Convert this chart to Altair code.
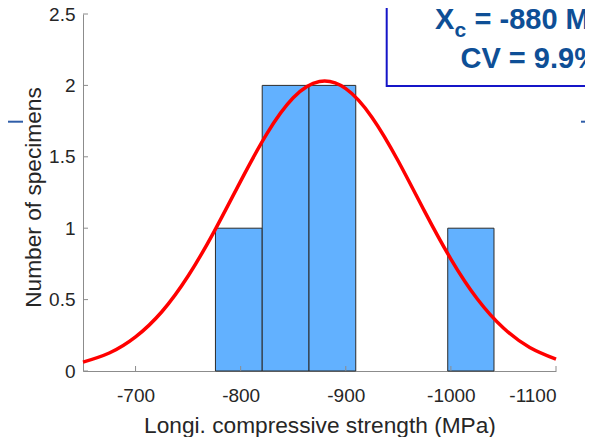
import altair as alt
import pandas as pd

# ---- data ----
bin_left = [-776, -820.5, -865, -909.5, -953, -997]
bin_right = [-820.5, -865, -909.5, -953, -997, -1041]
counts = [1, 2, 2, 0, 0, 1]

curve_x = [-650, -675, -700, -725, -750, -775, -800, -825, -850, -875,
           -900, -925, -950, -975, -1000, -1025, -1050, -1075, -1100]
curve_y = [0.062, 0.126, 0.239, 0.415, 0.665, 0.980, 1.330, 1.662, 1.913, 2.027,
           1.977, 1.776, 1.469, 1.118, 0.784, 0.506, 0.301, 0.165, 0.083]

x_ticks = [-700, -800, -900, -1000, -1100]
y_ticks = [0, 0.5, 1, 1.5, 2, 2.5]

x_title = "Longi. compressive strength (MPa)"
y_title = "Number of specimens"
ann_x = "X"
ann_sub = "c"
ann_rest = "= -880 MPa"
ann_cv = "CV = 9.9%"

FONT = "Liberation Sans"
TXT = "#262626"
AX = "#8c8c8c"
W, H = 473, 357

bars_df = pd.DataFrame({"left": bin_left, "right": bin_right, "count": counts})
curve_df = pd.DataFrame({"x": curve_x, "y": curve_y})
xt_df = pd.DataFrame({"v": x_ticks})
yt_df = pd.DataFrame({"v": y_ticks})
one = pd.DataFrame({"a": [0]})

xscale = alt.Scale(domain=[-1100, -650], reverse=True, nice=False, zero=False)
yscale = alt.Scale(domain=[0, 2.5], nice=False, zero=True)

x_axis = alt.Axis(values=x_ticks, labelExpr="'' + datum.value", title=x_title,
                  ticks=False, grid=False, labelPadding=30, labelBaseline="alphabetic",
                  labelFont=FONT, labelFontSize=19, labelColor=TXT,
                  titleFont=FONT, titleFontSize=22.7, titleColor=TXT, titleFontWeight="normal",
                  titleY=61, titleBaseline="alphabetic",
                  domainColor=AX, domainWidth=1)
y_axis = alt.Axis(values=y_ticks, labelExpr="'' + datum.value", title=y_title,
                  ticks=False, grid=False, labelPadding=8,
                  labelFont=FONT, labelFontSize=19, labelColor=TXT,
                  titleFont=FONT, titleFontSize=22.7, titleColor=TXT, titleFontWeight="normal",
                  titleX=-50, titleY=183, titleAngle=270, titleBaseline="middle",
                  domainColor=AX, domainWidth=1)

bars = alt.Chart(bars_df).transform_filter("datum.count > 0").transform_calculate(
    base="0"
).mark_rect(
    fill="#62b1ff", stroke="#2b2b2b", strokeWidth=1
).encode(
    x=alt.X("left:Q", scale=xscale, axis=x_axis),
    x2="right:Q",
    y=alt.Y("count:Q", scale=yscale, axis=y_axis),
    y2="base:Q",
)

curve = alt.Chart(curve_df).mark_line(color="#ff0000", strokeWidth=3.5, interpolate="natural").encode(
    x=alt.X("x:Q", scale=xscale, axis=x_axis),
    y=alt.Y("y:Q", scale=yscale, axis=y_axis),
)

xticks = alt.Chart(xt_df).mark_rule(color=AX, strokeWidth=1).encode(
    x=alt.X("v:Q", scale=xscale, axis=x_axis),
    y=alt.value(H), y2=alt.value(H - 5),
)
yticks = alt.Chart(yt_df).mark_rule(color=AX, strokeWidth=1).encode(
    y=alt.Y("v:Q", scale=yscale, axis=y_axis),
    x=alt.value(0), x2=alt.value(5),
)

box = alt.Chart(one).mark_rect(fill="white", stroke="#1515c8", strokeWidth=2).encode(
    x=alt.value(303.7), x2=alt.value(640), y=alt.value(-40), y2=alt.value(72),
)

BLUE_TXT = "#0e4f96"
t1 = alt.Chart(one).mark_text(text=ann_x, font=FONT, fontSize=29, fontWeight="bold",
                              color=BLUE_TXT, align="left", baseline="alphabetic").encode(
    x=alt.value(352), y=alt.value(15.3))
t2 = alt.Chart(one).mark_text(text=ann_sub, font=FONT, fontSize=21, fontWeight="bold",
                              color=BLUE_TXT, align="left", baseline="alphabetic").encode(
    x=alt.value(371.5), y=alt.value(23.3))
t3 = alt.Chart(one).mark_text(text=ann_rest, font=FONT, fontSize=29, fontWeight="bold",
                              color=BLUE_TXT, align="left", baseline="alphabetic").encode(
    x=alt.value(391.5), y=alt.value(15.3))
t4 = alt.Chart(one).mark_text(text=ann_cv, font=FONT, fontSize=29, fontWeight="bold",
                              color=BLUE_TXT, align="left", baseline="alphabetic").encode(
    x=alt.value(377.5), y=alt.value(54.3))

# thin slide decoration lines left and right of the plot
deco_l = alt.Chart(one).mark_rect(color="#2f5da8", width=30, height=2, align="left").encode(
    x=alt.value(-90), y=alt.value(107.7))
deco_r = alt.Chart(one).mark_rect(color="#2f5da8", width=30, height=2, align="left").encode(
    x=alt.value(498), y=alt.value(107.7))

chart = alt.layer(bars, curve, xticks, yticks, box, t1, t2, t3, t4, deco_l, deco_r).properties(
    width=W, height=H,
    autosize=alt.AutoSizeParams(type="none"),
    padding={"left": 75, "top": 6, "right": 29, "bottom": 66},
    background="white",
).configure_view(stroke=None)

chart.save("out.html", embed_options={"renderer": "svg", "actions": False})
